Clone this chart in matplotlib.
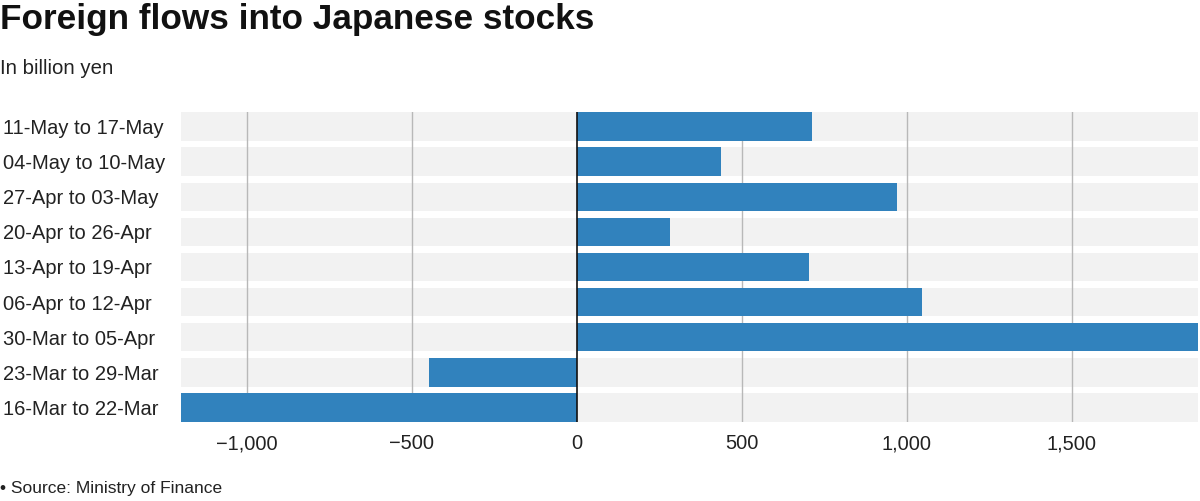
import numpy as np
import matplotlib.pyplot as plt
from matplotlib.ticker import FuncFormatter

# =========================================================
# DATA (billion yen, weekly net foreign purchases)
# =========================================================

weeks = [
    "16-Mar to 22-Mar",
    "23-Mar to 29-Mar",
    "30-Mar to 05-Apr",
    "06-Apr to 12-Apr",
    "13-Apr to 19-Apr",
    "20-Apr to 26-Apr",
    "27-Apr to 03-May",
    "04-May to 10-May",
    "11-May to 17-May",
]

flows = [-1200, -449, 1882, 1045, 703, 282, 969, 437, 711]

ticks = [-1000, -500, 0, 500, 1000, 1500]

# =========================================================
# FIGURE
# =========================================================

plt.rcParams['font.family'] = ['Liberation Sans', 'DejaVu Sans']

fig = plt.figure(figsize=(12, 5.01), dpi=100)
ax = fig.add_axes([181 / 1200, 1 - 421.7 / 501, (1198 - 181) / 1200, (421.7 - 112.3) / 501])

bar_color = '#3182bd'
band_h = 0.81
y = np.arange(len(weeks))

xmin, xmax = min(flows), max(flows)

# background bands
ax.barh(y, xmax - xmin, left=xmin, height=band_h, color='#f2f2f2', zorder=0)

# grid lines
for t in ticks:
    if t != 0:
        ax.axvline(t, color='#b8b8b8', linewidth=1, zorder=1)

# bars
ax.barh(y, flows, height=band_h, color=bar_color, zorder=2)

# zero line
ax.axvline(0, color='#111111', linewidth=1.2, zorder=3)

ax.set_xlim(xmin, xmax)
ax.set_ylim(-band_h / 2, len(weeks) - 1 + band_h / 2)

ax.set_xticks(ticks)
ax.xaxis.set_major_formatter(
    FuncFormatter(lambda v, p: f"{int(v):,}".replace('-', '\u2212'))
)
ax.set_yticks(y)
ax.set_yticklabels(weeks, ha='left')

ax.tick_params(axis='x', length=0, pad=9, labelsize=14.4, labelcolor='#222222')
ax.tick_params(axis='y', length=0, pad=128, labelsize=14.5, labelcolor='#222222')

for s in ax.spines.values():
    s.set_visible(False)

# =========================================================
# TEXT
# =========================================================

fig.text(0.0, 1 - 20 / 501, "Foreign flows into Japanese stocks",
         fontsize=25.3, fontweight='bold', va='center', ha='left', color='#111111')

fig.text(0.0, 1 - 68 / 501, "In billion yen",
         fontsize=14.7, va='center', ha='left', color='#222222')

fig.text(0.0, 1 - 488 / 501, "\u2022 Source: Ministry of Finance",
         fontsize=12.5, va='center', ha='left', color='#222222')

fig.savefig('out.png', dpi=100)
